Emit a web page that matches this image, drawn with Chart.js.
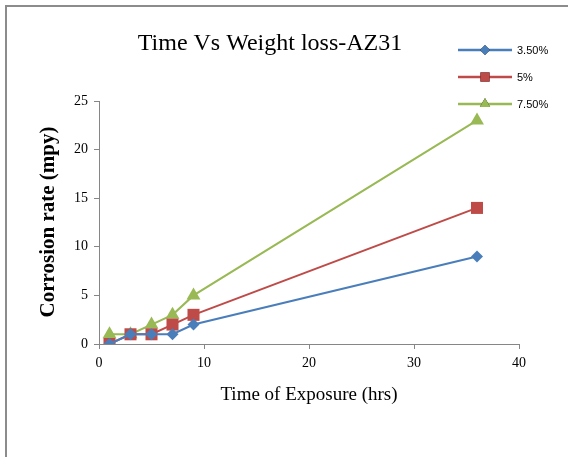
<!DOCTYPE html>
<html>
<head>
<meta charset="utf-8">
<script src="https://cdn.jsdelivr.net/npm/chart.js@4"></script>
<style>
  body { margin: 0; background: #fff; }
</style>
</head>
<body>
<canvas id="chart" width="568" height="457"></canvas>
<script>
// DATA
const hours = [1, 3, 5, 7, 9, 36];
const rate35 = [0, 1, 1, 1, 2, 9];
const rate5 = [0, 1, 1, 2, 3, 14];
const rate75 = [1, 1, 2, 3, 5, 23];
const seriesNames = ["3.50%", "5%", "7.50%"];
const xTicks = [0, 10, 20, 30, 40];
const yTicks = [0, 5, 10, 15, 20, 25];

const COLORS = ["#4a7ebb", "#be4b48", "#98b954"];
const SHAPES = ["rectRot", "rect", "triangle"];
const RADII = [6, 8.5, 8];
const LEGEND_RADII = [5, 6.5, 6];
const AXIS_GRAY = "#868686";
const SERIF = "'Liberation Serif', 'Times New Roman', serif";

function toPoints(values) {
  return hours.map((h, i) => ({ x: h, y: values[i] }));
}

function makeDataset(i, values) {
  return {
    label: seriesNames[i],
    data: toPoints(values),
    borderColor: COLORS[i],
    backgroundColor: COLORS[i],
    borderWidth: 2,
    pointStyle: SHAPES[i],
    pointRadius: RADII[i],
    pointBorderWidth: 0,
    tension: 0
  };
}

// texts, frame and legend drawn on top of the chart
const decorations = {
  id: "decorations",
  afterDraw(chart) {
    const ctx = chart.ctx;
    ctx.save();

    // frame (left and top edge)
    ctx.fillStyle = "#8c8c8c";
    ctx.fillRect(5, 5, 2, 452);
    ctx.fillRect(5, 5, 563, 2);

    ctx.fillStyle = "#000";
    ctx.textAlign = "center";
    ctx.textBaseline = "middle";

    ctx.font = "24px " + SERIF;
    ctx.fillText("Time Vs Weight loss-AZ31", 270, 44);

    ctx.font = "19px " + SERIF;
    ctx.fillText("Time of Exposure (hrs)", 309, 395);

    ctx.save();
    ctx.translate(49, 222);
    ctx.rotate(-Math.PI / 2);
    ctx.font = "bold 21px " + SERIF;
    ctx.fillText("Corrosion rate (mpy)", 0, 0);
    ctx.restore();

    // legend
    ctx.font = "11px 'Liberation Sans', Arial, sans-serif";
    ctx.textAlign = "left";
    chart.data.datasets.forEach((ds, i) => {
      const y = 50 + i * 27;
      ctx.strokeStyle = ds.borderColor;
      ctx.lineWidth = 2.5;
      ctx.beginPath();
      ctx.moveTo(458, y);
      ctx.lineTo(512, y);
      ctx.stroke();
      Chart.helpers.drawPoint(ctx, {
        pointStyle: ds.pointStyle,
        radius: LEGEND_RADII[i],
        rotation: 0,
        borderWidth: 0
      }, 485, y);
      ctx.fillStyle = ds.backgroundColor;
      ctx.fill();
      ctx.fillStyle = "#000";
      ctx.fillText(ds.label, 517, y + 1);
    });

    ctx.restore();
  }
};

new Chart(document.getElementById("chart"), {
  type: "line",
  data: {
    datasets: [
      makeDataset(0, rate35),
      makeDataset(1, rate5),
      makeDataset(2, rate75)
    ]
  },
  options: {
    responsive: false,
    animation: false,
    layout: { padding: { left: 0, right: 49, top: 101, bottom: 0 } },
    plugins: {
      legend: { display: false },
      title: { display: false },
      tooltip: { enabled: false }
    },
    scales: {
      x: {
        type: "linear",
        min: 0,
        max: 40,
        afterFit(scale) { scale.height = 113; },
        afterBuildTicks(scale) { scale.ticks = xTicks.map(v => ({ value: v })); },
        border: { color: AXIS_GRAY, width: 1 },
        grid: { drawOnChartArea: false, drawTicks: true, tickLength: 5, color: AXIS_GRAY },
        ticks: { color: "#000", padding: 6, font: { family: SERIF, size: 14 } }
      },
      y: {
        min: 0,
        max: 25,
        afterFit(scale) { scale.width = 99; },
        afterBuildTicks(scale) { scale.ticks = yTicks.map(v => ({ value: v })); },
        border: { color: AXIS_GRAY, width: 1 },
        grid: { drawOnChartArea: false, drawTicks: true, tickLength: 5, color: AXIS_GRAY },
        ticks: { color: "#000", padding: 6, font: { family: SERIF, size: 14 } }
      }
    }
  },
  plugins: [decorations]
});
</script>
</body>
</html>
